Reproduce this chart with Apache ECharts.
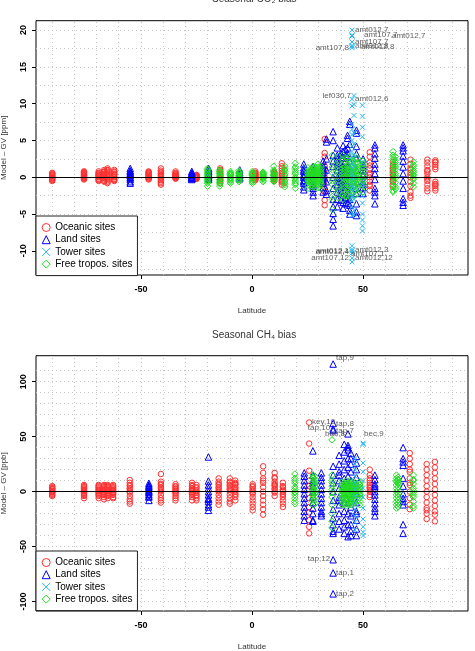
<!DOCTYPE html>
<html>
<head>
<meta charset="utf-8">
<script src="https://cdn.jsdelivr.net/npm/echarts@6.0.0/dist/echarts.min.js"></script>
<style>
html, body { margin: 0; padding: 0; background: #fff; }
#main { width: 475px; height: 651px; }
</style>
</head>
<body>
<div id="main"></div>
<script>
// site columns: [latitude, [monthly model - GV values]]
// CO2 (ppm)
var co2Oceanic = [
	[-89.9, [0.6, 0.4, 0.2, 0.1, 0, -0.1, -0.2, -0.4, -0.5, 0.3, -0.3, 0.5]],
	[-75.6, [0.8, 0.5, 0.3, 0.1, -0.1, -0.3, 0.6, 0.2, 0, -0.2, 0.4, 0.7]],
	[-69.0, [0.8, 0.6, 0.3, 0.1, -0.2, -0.5, 0.4, 0, -0.3, 0.2, 0.5, -0.4]],
	[-66.5, [1.0, 0.7, 0.4, 0.1, -0.3, -0.6, 0.5, 0.2, -0.1, -0.5, 0.8, 0.3]],
	[-65.0, [1.2, 0.9, 0.5, 0.2, -0.2, -0.6, -0.8, 0.3, 0, -0.4, 0.7, 1.0]],
	[-62.0, [1.0, 0.7, 0.3, 0, -0.3, -0.5, 0.5, 0.1, -0.2, 0.8, 0.4, -0.4]],
	[-46.5, [0.8, 0.5, 0.2, 0, -0.3, 0.6, 0.3, -0.1, 0.1, 0.4, -0.2, 0.7]],
	[-41.0, [1.2, 0.9, 0.5, 0.2, -0.2, -0.6, -1.0, 0.3, 0, -0.4, -0.8, 0.7]],
	[-34.4, [0.8, 0.5, 0.2, 0, -0.2, 0.3, 0.6, 0.1, -0.1, 0.4, 0.2, 0]],
	[-25.0, [0.3, 0.1, -0.1, -0.2, 0.2, 0, 0.1, -0.1, 0.2, 0.3, 0, -0.2]],
	[-14.3, [1.2, 0.8, 0.4, 0, -0.4, -0.8, 0.6, 0.2, -0.2, 1.0, 0.3, -0.5]],
	[-5.8, [0.6, 0.3, 0, -0.3, 0.2, -0.1, 0.4, 0.1, -0.2, 0.5, 0, 0.3]],
	[1.5, [0.8, 0.5, 0.2, -0.1, -0.4, 0.3, 0, 0.6, -0.2, 0.4, 0.1, -0.3]],
	[10.0, [0.7, 0.4, 0.1, -0.2, -0.5, 0.3, 0, 0.5, -0.3, 0.2, 0.6, -0.1]],
	[13.4, [1.9, 1.2, 0.6, 0.2, -0.3, -0.7, -1.0, 0.4, 0, -0.5, 0.9, 1.5]],
	[32.7, [5.2, 3.3, 2.8, 1.5, 0.5, -0.5, -1.5, -2.0, -3.1, -3.8, 1.0, 0]],
	[53.0, [3.4, 2.8, 2.0, 1.2, 0.5, 0, -0.6, -1.2, -1.8, 1.6, 0.3, -1.0]],
	[63.4, [2.1, 1.6, 1.0, 0.5, 0, -0.5, -1.0, -1.3, 0.8, 0.3, -0.2, 1.3]],
	[71.3, [2.4, 1.8, 1.2, 0.6, 0, -0.6, -1.2, -2.0, -2.8, -2.5, 1.0, 0.3]],
	[78.9, [2.4, 2.0, 1.5, 1.0, 0.5, 0, -0.5, -1.0, -1.5, -1.9, 0.8, -0.2]],
	[82.5, [2.3, 2.0, 1.7, 1.4, 1.1, -0.6, -0.9, -1.2, -1.5, -1.8, 2.1, -1.0]]
];
var co2Land = [
	[-54.8, [1.2, 0.9, 0.6, 0.3, 0, -0.3, -0.6, -0.8, 0.5, 0.2, -0.1, 0.8]],
	[-27.1, [0.8, 0.5, 0.2, -0.1, -0.3, 0.4, 0.1, -0.2, 0.6, 0, 0.3, -0.1]],
	[-19.5, [1.2, 0.8, 0.4, 0, -0.3, 0.6, 0.2, -0.1, 1.0, 0.3]],
	[-5.5, [1.0, 0.6, 0.2, -0.2, 0.4, 0]],
	[23.3, [1.8, 1.3, 0.8, 0.4, 0, -0.4, -0.8, -1.3, -1.7, 1.0, 0.2, -0.6]],
	[27.5, [1.5, 1.0, 0.5, 0, -0.5, -1.0, -1.5, -2.0, -2.5, 0.8, -0.3, -1.2]],
	[32.0, [2.2, 1.6, 1.0, 0.4, -0.2, -0.8, -1.4, -2.0, 0.7, -0.5, 1.3, 0]],
	[33.5, [5.2, 4.8, 2.5, -1.8, -2.3, 1.0, -0.6]],
	[36.5, [6.2, 5.0, 3.0, 1.5, 0, -1.5, -3.0, -4.0, -4.9, -5.7, -6.6, 2.2]],
	[38.4, [4.0, 3.0, 2.0, 1.0, 0, -1.0, -2.0, -3.0, -4.0, 2.5, -0.5, 1.5]],
	[40.0, [3.2, 2.7, 1.9, 0.9, -0.2, -1.2, -2.2, -3.1, 1.4, 0.4, -0.7, -1.7]],
	[41.0, [4.3, 3.5, 2.6, 1.6, 0.6, -0.4, -1.4, -2.4, -3.4, -4.2, 1.0, -1.0]],
	[42.0, [3.8, 3.0, 2.1, 1.2, 0.2, -0.8, -1.8, -2.7, -3.6, 0.7, -0.3, -1.3]],
	[43.0, [5.7, 5.3, 4.0, 2.8, 1.5, 0.3, -1.0, -2.0, -2.8, -3.5, 3.3, 0.8]],
	[44.0, [7.6, 7.2, 4.5, 2.2, 0.5, -1.2, -3.0, -4.5, -5.0, -3.8, 1.3, -2.2]],
	[47.0, [6.4, 6.0, 4.2, 2.6, 1.0, -0.6, -2.2, -3.6, -4.7, -5.2, 3.2, -1.5]],
	[50.0, [2.5, 1.8, 1.0, 0.2, -0.6, -1.4, -2.2, 1.4, -1.0, 0.5]],
	[55.3, [4.4, 4.0, 3.2, 2.6, 1.8, 1.2, 0.5, -0.3, -1.5, -2.0, -2.5, -3.6]],
	[68.0, [4.4, 4.0, 3.6, 2.9, 2.2, 1.4, 0.5, -0.5, -1.5, -2.9, -3.4, -3.8]]
];
var co2Tower = [
	[45.0, [20.0, 19.3, 19.2, 18.4, 17.9, 17.8, 17.6, 10.6, 9.7, 7.2, 6.5, 5.8, 5.0, 4.2, 3.5, 2.8, 2.0, 1.2, 0.5, -0.3, -1.0, -1.8, -2.5, -3.2, -4.0, -4.8, -5.2, -9.3, -9.8, -10.0, -10.3, -11.0, -11.5]],
	[45.9, [11.1, 9.9, 8.4, 6.0, 4.5, 3.0, 1.5, 0, -1.5, -3.0, -4.5, -5.1]],
	[49.7, [9.8, 8.3, 6.8, 5.5, 2.0, -1.0, -2.5, -3.5, -5.0, -5.8, -6.6, -7.3]]
];
var co2Free = [
	[-20.0, [1.2, 0.8, 0.4, 0, -0.4, -0.8, -1.2, 0.6, 0.2, -0.2, -0.6, 1.0]],
	[-14.5, [1.0, 0.7, 0.3, 0, -0.3, -0.7, -1.2, 0.5, 0.1, -0.5, 0.8, -0.9]],
	[-9.7, [0.8, 0.5, 0.2, -0.1, -0.4, -0.8, 0.6, 0.3, 0, -0.6, 0.4, -0.2]],
	[-5.8, [0.9, 0.6, 0.3, 0, -0.3, -0.6, 0.5, 0.1, -0.2, 0.7, -0.4, 0.2]],
	[0.2, [0.8, 0.5, 0.2, -0.1, -0.5, -0.8, 0.6, 0.3, 0, -0.3, 0.4, -0.6]],
	[5.0, [0.7, 0.4, 0.1, -0.2, -0.6, 0.5, 0.2, -0.1, -0.4, 0.6, 0, 0.3]],
	[9.8, [1.5, 0.8, 0.4, 0, -0.3, -0.6, 1.0, 0.6, 0.2, -0.2, -0.5, 0.3]],
	[14.7, [1.5, 1.0, 0.5, 0, -0.5, -1.0, -1.3, 0.8, 0.3, -0.3, -0.8, 1.2]],
	[19.5, [1.9, 1.4, 0.9, 0.4, 0, -0.5, -1.0, -1.5, 1.2, 0.6, -0.2, -0.8]],
	[25.2, [1.3, 0.9, 0.5, 0.1, -0.3, -0.7, -1.1, -1.5, 0.7, 0.3, -0.1, -0.5]],
	[26.4, [1.1, 0.8, 0.4, 0, -0.4, -0.8, -1.2, 0.6, 0.2, -0.2, -0.6, 0.9]],
	[27.6, [1.5, 1.1, 0.7, 0.3, -0.1, -0.5, -0.9, -1.3, 1.3, 0.5, 0.1, -0.7]],
	[28.6, [1.4, 1.0, 0.6, 0.2, -0.2, -0.6, -1.0, -1.4, 0.8, 0.4, 0, -0.4]],
	[29.7, [1.8, 1.4, 1.0, 0.6, 0.2, -0.2, -0.6, -1.0, -1.4, 0.8, 0.4, -0.3]],
	[31.0, [1.5, 1.0, 0.5, 0, -0.5, -1.0, -1.5, 1.2, 0.3, -0.2, -0.8, 0.7]],
	[36.2, [3.0, 2.2, 1.4, 0.6, -0.2, -1.0, -1.8, -2.6, -3.0, -4.4, 1.0, -0.5]],
	[39.0, [2.8, 2.0, 1.2, 0.4, -0.4, -1.2, -2.0, -2.8, 1.6, 0.8, 0, -1.6]],
	[40.9, [3.0, 2.4, 1.6, 0.8, 0, -0.8, -1.6, -2.4, -3.0, 1.2, 0.4, -1.2]],
	[42.0, [2.7, 2.1, 1.4, 0.7, 0, -0.7, -1.4, -2.1, -2.6, 1.0, 0.3, -0.4]],
	[43.0, [2.5, 1.8, 1.1, 0.4, -0.3, -1.0, -1.7, -2.4, 1.5, 0.7, 0, -1.4]],
	[44.2, [2.9, 2.2, 1.5, 0.8, 0.1, -0.6, -1.3, -2.0, -2.7, 1.1, 0.4, -0.9]],
	[45.5, [2.2, 1.6, 1.0, 0.4, -0.2, -0.8, -1.4, -2.0, 1.3, 0.7, 0.1, -0.5]],
	[46.5, [2.4, 1.9, 1.3, 0.6, 0, -0.6, -1.2, -1.8, -2.4, 0.9, 0.3, -0.3]],
	[47.5, [2.6, 1.8, 1.0, 0.2, -0.6, -1.4, -2.2, 1.4, 0.6, -0.2, -1.0, 2.0]],
	[50.0, [2.2, 1.5, 0.8, 0.1, -0.6, -1.3, -2.0, 1.2, 0.4, -0.3, -1.0, 1.8]],
	[63.5, [3.5, 3.0, 2.4, 1.8, 1.2, 0.6, 0, -0.6, -1.2, -1.8, -2.0, 2.7]],
	[64.5, [2.8, 2.3, 1.7, 1.1, 0.5, -0.1, -0.7, -1.3, -1.6, 2.0, 1.4, 0.2]],
	[72.6, [2.1, 1.7, 1.2, 0.7, 0.2, -0.3, -0.8, -1.3, 1.5, 0.9, 0.4, -0.1]]
];
// outliers with text: [lat, value, site,month]
var co2Labels = [
	[45.0, 20.0, 'amt012,7'], [45.0, 19.3, 'amt107,7'], [45.0, 19.2, 'amt012,7'],
	[45.0, 18.4, 'amt107,7'], [45.0, 17.9, 'amt012,8'], [45.0, 17.8, 'amt012,8'],
	[45.0, 17.6, 'amt107,8'], [45.9, 11.1, 'lef030,7'], [45.0, 10.6, 'amt012,6'],
	[45.0, -9.8, 'amt012,3'], [45.0, -10.0, 'amt012,1'], [45.0, -10.1, 'amt012,4'],
	[45.0, -10.3, 'amt107,1'], [45.0, -11.0, 'amt107,12'], [45.0, -11.0, 'amt012,12']
];

// CH4 (ppb)
var ch4Oceanic = [
	[-89.9, [5, 3, 2, 0, -1, -2, -3, -4, 4, 1, -0.5, 2.5]],
	[-75.6, [6, 4, 2, 0, -2, -4, -6, 3, 1, -1, -3, 5]],
	[-69.0, [6, 4, 2, 0, -2, -4, -6, 3, 1, -1, -3, 5]],
	[-66.6, [5, 3, 1, -1, -3, -5, -7, 4, 2, 0, -2, 6]],
	[-64.9, [6, 4, 2, 0, -2, -4, -6, 5, 3, 1, -1, -3]],
	[-62.5, [5, 3, 1, -1, -3, -5, -6, 4, 2, 0, -2, 6]],
	[-55.0, [10.5, 8, 5, 2, -1, -4, -7, -9, -11, 6, 3, 0]],
	[-41.0, [16, 9, 6, 3, 0, -3, -6, -8, -10, 7, 4, 1]],
	[-34.4, [6.7, 4.5, 2, 0, -2, -4, -6, -8, 5, 3, 1, -1]],
	[-27.0, [8, 5, 2, 0, -2, -5, -8, 6, 3, 1, -1, -3]],
	[-25.0, [6, 3, 0, -3, -6, 4, 1, -1, -4, -8]],
	[-15.0, [12, 9, 6, 3, 0, -3, -6, -9, -12, 7, 4, 1]],
	[-10.0, [12, 9, 6, 3, 0, -3, -6, -9, -11, 8, 5, 2]],
	[-7.5, [10, 7, 4, 1, -2, -5, -8, 6, 3, 0, -3, 8]],
	[0.3, [6.7, 4, 1, -2, -5, -8, -11, -14, -17, 5, 2, -1]],
	[5.0, [23, 17, 12, 8, 4, 0, -4, -8, -12, -16, -21, 10]],
	[10.2, [17, 13, 9, 5, 2, -1, -4, 12, 7, 3, 0, 6]],
	[13.9, [8, 5, 2, 0, -2, -5, -8, -11, -14, 4, 1, -3]],
	[25.7, [62.8, 43.7, 19, 10, 2, -6, -14, -19, -26, -32, -38, 5]],
	[53.0, [20, 15, 10, 6, 3, 0, -3, -5, 12, 8, 4, 1]],
	[71.0, [35, 30, 25, 18, 12, 6, 0, -6, -12, -16, 20, 8]],
	[78.6, [25, 20, 15, 10, 5, 0, -5, -10, -15, -20, -25, -17]],
	[82.3, [27, 22, 17, 12, 7, 2, -3, -8, -13, -18, -21, -27]]
];
var ch4Land = [
	[-46.4, [7.6, 5, 2.5, 0, -2.5, -5, -8, 4, 1, -1, -4, 6]],
	[-19.6, [31.5, 9.6, 6, 3, 0, -3, -6, -9, -12, -17, -14, -7]],
	[23.5, [17, 14, 10, 6, 2, -2, -6, -10, -14, -18, -22, -26]],
	[27.4, [37, 15, 10, 5, 0, -5, -10, -15, -20, -26, -27, 8]],
	[31.2, [17, 13, 6, 2, -2, -6, -10, -14, -18, -20, -22, 10]],
	[36.5, [116, 62, 57, 55.5, 23, 15, 8, 0, -8, -16, -24, -30, -36, -38, -62, -74, -93]],
	[39.2, [33, 25, 18, 10, 3, -5, -12, -20, -27, -34, 15, -8]],
	[41.5, [43, 36, 28, 20, 12, 5, -2, -10, -18, -26, -32, -38]],
	[43.2, [52.5, 42, 40, 38, 30, 22, 14, 6, -2, -10, -20, -30, -41]],
	[44.5, [35, 30, 25, 18, 10, 2, -6, -14, -22, -30, -36, -40]],
	[47.0, [32, 26, 20, 13, 6, -2, -10, -18, -26, -34, -40, -20]],
	[55.3, [15, 11, 7, 3, 0, -3, -7, -11, -15, -18, -22, 5]],
	[68.0, [40, 30, 27, 24, 12, 5, -2, -6, -9, -12, -30, -38]]
];
var ch4Tower = [
	[46.3, [30, 25, 20, 14, 8, 2, -4, -10, -16, -22, -28, -35]],
	[50.0, [44, 43, 26, 18, 10, 3, -5, -15, -25, -32, -37, -40]]
];
var ch4Free = [
	[19.3, [16, 12, 8, 4, 0, -3, -6, -9, -11, 10, 2, -1]],
	[27.5, [15, 12, 9, 6, 3, 0, -3, -6, -9, -12, 13, 1]],
	[28.3, [14, 11, 7, 4, 1, -2, -5, -8, -11, 9, 5, -1]],
	[36.0, [47, 15, 8, 2, -5, -12, -20, -27, -33, 5, -1, 10]],
	[40.5, [9, 6, 3, 0, -3, -6, -9, -12, 4, 1, -2, -5]],
	[41.5, [8, 5, 2, -1, -4, -7, -10, -12, 6, 3, 0, -3]],
	[42.5, [10, 7, 4, 1, -2, -5, -8, -11, -13, 5, -1, 2]],
	[43.5, [9, 6, 4, 1, -2, -4, -7, -10, -12, 7, 2, -1]],
	[44.5, [9, 6, 3, 0, -3, -6, -9, -12, 7, 2, -4, -10]],
	[45.5, [8, 6, 3, 1, -2, -5, -8, -11, 5, 2, -1, -4]],
	[46.5, [8, 5, 2, -1, -4, -7, -10, 6, 3, 0, -3, -8]],
	[48.5, [9, 6, 3, 0, -3, -6, -9, -12, 7, 4, 1, -2]],
	[65.0, [15, 12, 9, 6, 3, 0, -3, -6, -9, -12, -15, 10]],
	[65.8, [13, 10, 7, 4, 1, -2, -5, -8, -11, -14, 11, 8]],
	[72.6, [15, 11, 7, 3, -1, -5, -9, -13, -15, 10, 1, -3]]
];
var ch4Labels = [
	[36.5, 116, 'tap,9'], [25.7, 62.8, 'key,10'], [36.5, 62, 'tap,8'],
	[36.5, 57, 'tap,10'], [36.5, 55.5, 'tap,7'], [43.2, 52.5, 'bao,8'],
	[50.0, 44, 'bec,9'], [36.5, -62, 'tap,12'], [36.5, -74, 'tap,1'], [36.5, -93, 'tap,2']
];

// ticks and grid lines
var latTicks = [-50, 0, 50];
var latGrid = [-90, -80, -70, -60, -50, -40, -30, -20, -10, 0, 10, 20, 30, 40, 50, 60, 70, 80, 90];
var co2Ticks = [-10, -5, 0, 5, 10, 15, 20];
var co2Grid = [-12.5, -10, -7.5, -5, -2.5, 0, 2.5, 5, 7.5, 10, 12.5, 15, 17.5, 20];
var ch4Ticks = [-100, -50, 0, 50, 100];
var ch4Grid = [-100, -90, -80, -70, -60, -50, -40, -30, -20, -10, 0, 10, 20, 30, 40, 50, 60, 70, 80, 90, 100, 110];

// label placement (side, dx, dy)
var co2LabelPos = [['right', 0, 0], ['right', 9, 0], ['right', 37, 0], ['right', 0, 0], ['right', 0, 0], ['right', 6, 0],
	['left', 0, 0], ['left', 0, 0], ['right', 0, 0], ['right', 0, 0], ['left', 0, 0], ['left', 0, 0],
	['right', -4, 1], ['left', 0, 0], ['right', 0, 0]];
var ch4LabelPos = [['right', 0, -6], ['right', 0, -1], ['right', 0, 0], ['left', 0, -1], ['right', 0, 0], ['left', 0, 0],
	['right', -2, -9], ['left', 0, -1], ['right', 0, 0], ['right', 0, 0]];

var FONT = '"Liberation Sans", Arial, Helvetica, sans-serif';
var symCross = 'path://M0,0L10,10M10,0L0,10';
var types = [
	{name: 'Oceanic sites', symbol: 'circle', size: 5.5, color: '#ff3030'},
	{name: 'Land sites', symbol: 'triangle', size: 6.5, color: '#0000ff'},
	{name: 'Tower sites', symbol: symCross, size: 5, color: '#22b6ee'},
	{name: 'Free tropos. sites', symbol: 'diamond', size: 6.5, color: '#22dd22'}
];
var drawOrder = [0, 1, 3, 2];

function points(sites) {
	var out = [];
	sites.forEach(function (s) {
		s[1].forEach(function (v) { out.push([s[0], v]); });
	});
	return out;
}

function typeSeries(t, g, sites) {
	return {
		name: t.name, type: 'scatter', xAxisIndex: g, yAxisIndex: g,
		symbol: t.symbol, symbolSize: t.size, silent: true, animation: false,
		itemStyle: {color: 'rgba(0,0,0,0)', borderColor: t.color, borderWidth: 1, opacity: 1},
		data: points(sites)
	};
}

function labelSeries(g, labels, pos) {
	return {
		type: 'scatter', xAxisIndex: g, yAxisIndex: g, symbolSize: 0, silent: true, animation: false, z: 6,
		label: {show: true, formatter: '{b}', fontSize: 8, fontFamily: FONT, color: '#333', distance: 3},
		data: labels.map(function (d, i) {
			return {name: d[2], value: [d[0], d[1]],
				label: {position: pos[i][0], offset: [pos[i][1], pos[i][2]]}};
		})
	};
}

function gridSeries(g, yGrid) {
	var lines = latGrid.map(function (v) { return {xAxis: v}; })
		.concat(yGrid.map(function (v) { return {yAxis: v}; }));
	return [{
		type: 'scatter', xAxisIndex: g, yAxisIndex: g, data: [], silent: true,
		markLine: {silent: true, symbol: 'none', animation: false, z: 1, label: {show: false},
			lineStyle: {color: '#c4c4c4', width: 1, type: [1, 3]}, data: lines}
	}, {
		type: 'scatter', xAxisIndex: g, yAxisIndex: g, data: [], silent: true,
		markLine: {silent: true, symbol: 'none', animation: false, z: 5, label: {show: false},
			lineStyle: {color: '#000', width: 1, type: 'solid'}, data: [{yAxis: 0}]}
	}];
}

function legendFor(top) {
	return {
		orient: 'vertical', left: 36, top: top, z: 10, selectedMode: false,
		backgroundColor: '#fff', borderColor: '#222', borderWidth: 1, borderRadius: 0,
		padding: [6.5, 5, 6.5, 5.7], itemWidth: 8, itemHeight: 8, itemGap: 2.2,
		textStyle: {fontSize: 10, fontFamily: FONT, color: '#000'},
		data: types.map(function (t) {
			return {name: t.name, icon: t.symbol,
				itemStyle: {color: 'rgba(0,0,0,0)', borderColor: t.color, borderWidth: 1}};
		})
	};
}

function xAxisFor(g) {
	return {
		type: 'value', gridIndex: g, min: -97.2, max: 97.2,
		name: 'Latitude', nameLocation: 'middle', nameGap: 32,
		nameTextStyle: {fontSize: 8, fontFamily: FONT, color: '#333'},
		axisLine: {show: false, onZero: false}, splitLine: {show: false},
		axisTick: {show: true, length: 4, customValues: latTicks, lineStyle: {color: '#000'}},
		axisLabel: {customValues: latTicks, fontSize: 9, fontWeight: 'bold', fontFamily: FONT, color: '#000', margin: 10}
	};
}

function yAxisFor(g, min, max, ticks, unit) {
	return {
		type: 'value', gridIndex: g, min: min, max: max,
		name: 'Model \u2013 GV [' + unit + ']', nameLocation: 'middle', nameGap: 28, nameRotate: 90,
		nameTextStyle: {fontSize: 8, fontFamily: FONT, color: '#333'},
		axisLine: {show: false, onZero: false}, splitLine: {show: false},
		axisTick: {show: true, length: 4, customValues: ticks, lineStyle: {color: '#000'}},
		axisLabel: {customValues: ticks, rotate: 90, fontSize: 9, fontWeight: 'bold', fontFamily: FONT, color: '#000', margin: 8}
	};
}

var myChart = echarts.init(document.getElementById('main'), null, {renderer: 'canvas'});

var series = [];
series = series.concat(gridSeries(0, co2Grid), gridSeries(1, ch4Grid));
var co2Sets = [co2Oceanic, co2Land, co2Tower, co2Free];
var ch4Sets = [ch4Oceanic, ch4Land, ch4Tower, ch4Free];
drawOrder.forEach(function (i) { series.push(typeSeries(types[i], 0, co2Sets[i])); });
drawOrder.forEach(function (i) { series.push(typeSeries(types[i], 1, ch4Sets[i])); });
series.push(labelSeries(0, co2Labels, co2LabelPos));
series.push(labelSeries(1, ch4Labels, ch4LabelPos));

option = {
	backgroundColor: '#fff',
	animation: false,
	title: [
		{text: 'Seasonal CO\u2082 bias', left: 212, top: -6, padding: 0,
			textStyle: {fontSize: 10, fontWeight: 'normal', fontFamily: FONT, color: '#333'}},
		{text: 'Seasonal CH\u2084 bias', left: 212, top: 330, padding: 0,
			textStyle: {fontSize: 10, fontWeight: 'normal', fontFamily: FONT, color: '#333'}}
	],
	legend: [legendFor(216), legendFor(551)],
	grid: [
		{left: 36, right: 7, top: 20.7, height: 254.3, show: true, borderColor: '#000', borderWidth: 1,
			backgroundColor: 'transparent', containLabel: false, outerBoundsMode: 'none'},
		{left: 36, right: 7, top: 355.7, height: 255.3, show: true, borderColor: '#000', borderWidth: 1,
			backgroundColor: 'transparent', containLabel: false, outerBoundsMode: 'none'}
	],
	xAxis: [xAxisFor(0), xAxisFor(1)],
	yAxis: [yAxisFor(0, -13.28, 21.28, co2Ticks, 'ppm'), yAxisFor(1, -108.6, 123.6, ch4Ticks, 'ppb')],
	series: series
};

myChart.setOption(option);
window.onresize = myChart.resize;
</script>
</body>
</html>
